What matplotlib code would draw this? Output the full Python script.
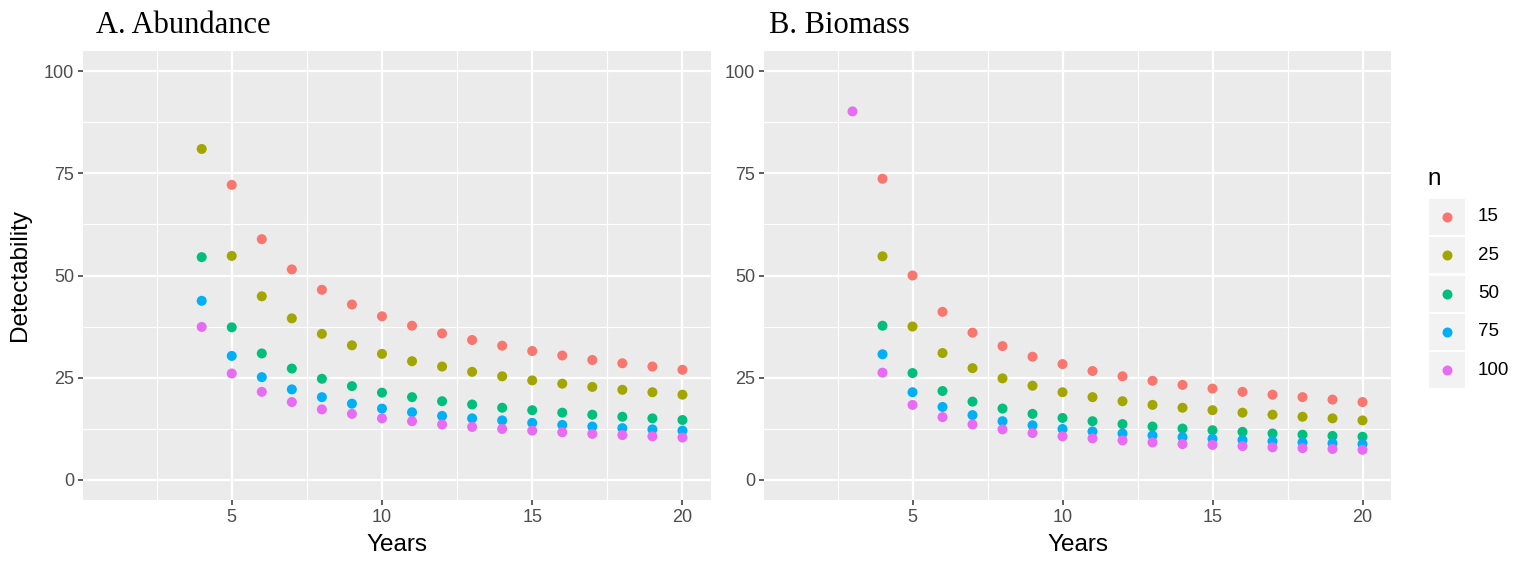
import numpy as np
import matplotlib
matplotlib.use("Agg")
import matplotlib.pyplot as plt
from matplotlib.patches import Rectangle
from matplotlib.lines import Line2D

# sample sizes (legend "n") and their ggplot hue colours
n_levels = ["15", "25", "50", "75", "100"]
n_colors = ["#F8766D", "#A3A500", "#00BF7D", "#00B0F6", "#E76BF3"]

years = list(range(4, 21))

# A. Abundance - detectability by years, one list per n
abund_15 = [None, 72.2, 58.9, 51.5, 46.5, 42.9, 40.0, 37.7, 35.8, 34.2, 32.8, 31.5, 30.4, 29.3, 28.5, 27.7, 26.9]
abund_25 = [81.0, 54.8, 44.9, 39.5, 35.7, 32.9, 30.8, 29.0, 27.7, 26.4, 25.3, 24.3, 23.5, 22.7, 22.0, 21.4, 20.8]
abund_50 = [54.5, 37.3, 30.9, 27.2, 24.7, 22.9, 21.3, 20.2, 19.2, 18.4, 17.6, 17.0, 16.4, 15.9, 15.4, 15.0, 14.6]
abund_75 = [43.8, 30.3, 25.1, 22.1, 20.2, 18.6, 17.4, 16.5, 15.6, 15.0, 14.5, 13.9, 13.4, 13.0, 12.6, 12.3, 12.0]
abund_100 = [37.4, 26.0, 21.5, 19.0, 17.2, 16.1, 15.0, 14.3, 13.5, 12.9, 12.4, 12.0, 11.6, 11.2, 10.9, 10.6, 10.3]

# B. Biomass (n = 100 also has a value at year 3)
bio_years_100 = list(range(3, 21))
bio_15 = [73.7, 50.0, 41.1, 36.0, 32.7, 30.1, 28.3, 26.6, 25.3, 24.2, 23.2, 22.3, 21.5, 20.8, 20.2, 19.6, 19.0]
bio_25 = [54.7, 37.5, 31.0, 27.3, 24.8, 23.0, 21.4, 20.2, 19.2, 18.3, 17.6, 17.0, 16.4, 15.9, 15.4, 15.0, 14.5]
bio_50 = [37.7, 26.1, 21.7, 19.1, 17.4, 16.1, 15.1, 14.3, 13.6, 13.0, 12.5, 12.1, 11.7, 11.3, 11.0, 10.7, 10.5]
bio_75 = [30.7, 21.4, 17.8, 15.8, 14.3, 13.3, 12.4, 11.8, 11.3, 10.8, 10.4, 10.0, 9.7, 9.4, 9.1, 8.9, 8.7]
bio_100 = [90.2, 26.2, 18.3, 15.3, 13.5, 12.3, 11.4, 10.6, 10.1, 9.6, 9.1, 8.7, 8.5, 8.2, 7.9, 7.7, 7.5, 7.3]

abund_series = [(years, abund_15), (years, abund_25), (years, abund_50), (years, abund_75), (years, abund_100)]
bio_series = [(years, bio_15), (years, bio_25), (years, bio_50), (years, bio_75), (bio_years_100, bio_100)]

W, H = 1527, 561
fig = plt.figure(figsize=(W / 100, H / 100), dpi=100)

sans = "Liberation Sans"
serif = "Liberation Serif"


def px_box(left, top, right, bottom):
    return [left / W, 1 - bottom / H, (right - left) / W, (bottom - top) / H]


def style_panel(ax):
    ax.set_facecolor("#EBEBEB")
    ax.set_xlim(0.05, 20.95)
    ax.set_ylim(-5, 105)
    ax.set_xticks([5, 10, 15, 20])
    ax.set_yticks([0, 25, 50, 75, 100])
    ax.set_xticks([2.5, 7.5, 12.5, 17.5], minor=True)
    ax.set_yticks([12.5, 37.5, 62.5, 87.5], minor=True)
    ax.grid(True, which="major", color="white", linewidth=1.6)
    ax.grid(True, which="minor", color="white", linewidth=0.8)
    ax.set_axisbelow(True)
    for s in ax.spines.values():
        s.set_visible(False)
    ax.tick_params(which="major", length=3.5, width=1.1, color="#333333",
                   labelcolor="#4D4D4D", labelsize=13, pad=3)
    ax.tick_params(which="minor", length=0)
    for lab in ax.get_xticklabels() + ax.get_yticklabels():
        lab.set_fontfamily(sans)
    ax.set_xlabel("Years", fontsize=17.5, fontfamily=sans, labelpad=5.5)


def draw(ax, series):
    for (xs, ys), col in zip(series, n_colors):
        xs = np.array(xs, dtype=float)
        ys = np.array([np.nan if v is None else v for v in ys], dtype=float)
        ax.scatter(xs, ys, s=52, color=col, edgecolors="none", zorder=3)


ax1 = fig.add_axes(px_box(83, 51, 711, 500))
draw(ax1, abund_series)
style_panel(ax1)
ax1.set_ylabel("Detectability", fontsize=17.5, fontfamily=sans, labelpad=9)

ax2 = fig.add_axes(px_box(764, 51, 1391, 500))
draw(ax2, bio_series)
style_panel(ax2)

fig.text(96 / W, 1 - 33 / H, "A. Abundance", fontsize=22, fontfamily=serif, va="baseline")
fig.text(769 / W, 1 - 33 / H, "B. Biomass", fontsize=22, fontfamily=serif, va="baseline")

# legend drawn by hand to get the ggplot grey key boxes
fig.text(1427 / W, 1 - 185 / H, "n", fontsize=17.5, fontfamily=sans, va="baseline")
for i, (lab, col) in enumerate(zip(n_levels, n_colors)):
    top = 199 + i * 38.3
    fig.add_artist(Rectangle((1429 / W, 1 - (top + 36) / H), 36 / W, 36 / H,
                             transform=fig.transFigure, facecolor="#F2F2F2", edgecolor="none"))
    cy = 1 - (top + 18) / H
    fig.add_artist(Line2D([1447 / W], [cy], transform=fig.transFigure, marker="o",
                          markersize=7.2, color=col, markeredgewidth=0, linestyle="none"))
    fig.text(1478 / W, cy, lab, fontsize=13.5, fontfamily=sans, va="center")

fig.savefig("out.png", dpi=100)
